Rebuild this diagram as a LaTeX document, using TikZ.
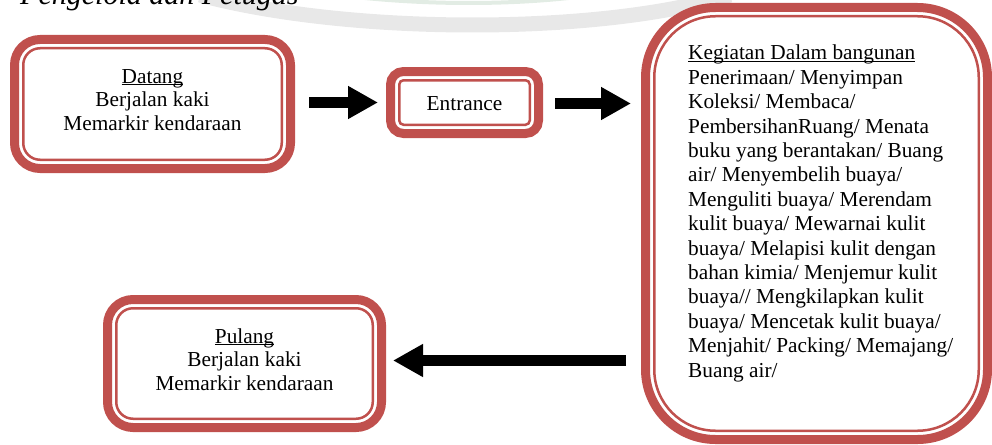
\documentclass[tikz,border=0pt]{standalone}
\usepackage{fontspec}
\setmainfont{Liberation Serif}
\usetikzlibrary{arrows.meta,calc}
\definecolor{boxred}{HTML}{C0504D}
\definecolor{markgray}{HTML}{E8E8E8}
\definecolor{markgreen}{HTML}{E2ECE4}
% underline sitting just below the baseline
\newcommand\undr[1]{\setbox0\hbox{#1}\rlap{\rule[-2.2pt]{\wd0}{1.3pt}}#1}

\begin{document}
\begin{tikzpicture}[x=1pt,y=-1pt,
  framebox/.style={draw=boxred, fill=white, line width=9pt, rounded corners=#1,
    inner sep=0pt, outer sep=0pt},
  innerline/.style={draw=boxred, line width=2.5pt, rounded corners=#1},
  bodytext/.style={font=\fontsize{21.3}{23.5}\selectfont, inner sep=0pt, align=center},
  listtext/.style={font=\fontsize{21.3}{24.4}\selectfont, inner sep=0pt, align=left},
  blockarrow/.style={line width=11pt, -{Triangle[length=30pt,width=31pt]}},
]
\useasboundingbox (0,0) rectangle (992,444);

% faint emblem arcs behind the heading
\draw[markgray, line width=15pt] (200,-5) .. controls (350,35) and (600,35) .. (730,-5);
\draw[markgreen, line width=4pt] (330,-6) .. controls (420,6) and (520,6) .. (600,-6);

\node[font=\fontsize{30}{36}\selectfont\itshape, anchor=base west, inner sep=0pt]
  (heading) at (20,5) {Pengelola dan Petugas};

% boxes: thick outer frame plus thin inner line
\node[framebox=25.5pt, minimum width=276pt, minimum height=129pt] (datang) at (152.5,104) {};
\draw[innerline=16.75pt] ([shift={(8.75pt,-8.75pt)}]datang.north west) rectangle ([shift={(-8.75pt,8.75pt)}]datang.south east);

\node[framebox=13pt, minimum width=148pt, minimum height=62pt] (entrance) at (464.5,102.5) {};
\draw[innerline=4.25pt] ([shift={(8.75pt,-8.75pt)}]entrance.north west) rectangle ([shift={(-8.75pt,8.75pt)}]entrance.south east);

\node[framebox=70pt, minimum width=342pt, minimum height=432pt] (kegiatan) at (816.5,223.5) {};
\draw[innerline=61.25pt] ([shift={(8.75pt,-8.75pt)}]kegiatan.north west) rectangle ([shift={(-8.75pt,8.75pt)}]kegiatan.south east);

\node[framebox=25.5pt, minimum width=274pt, minimum height=128pt] (pulang) at (244.5,363.5) {};
\draw[innerline=16.75pt] ([shift={(8.75pt,-8.75pt)}]pulang.north west) rectangle ([shift={(-8.75pt,8.75pt)}]pulang.south east);

% texts (base anchor = baseline of the last line)
\node[bodytext, anchor=base] (datangtxt) at (152.5,130)
  {\undr{Datang}\\Berjalan kaki\\Memarkir kendaraan};
\node[bodytext, anchor=base] (entrancetxt) at (464.5,110) {Entrance};
\node[bodytext, anchor=base] (pulangtxt) at (244.5,390)
  {\undr{Pulang}\\Berjalan kaki\\Memarkir kendaraan};
\node[listtext, anchor=base west] (kegiatantxt) at (688,377)
  {\undr{Kegiatan Dalam bangunan}\\
   Penerimaan/ Menyimpan\\
   Koleksi/ Membaca/\\
   PembersihanRuang/ Menata\\
   buku yang berantakan/ Buang\\
   air/ Menyembelih buaya/\\
   Menguliti buaya/ Merendam\\
   kulit buaya/ Mewarnai kulit\\
   buaya/ Melapisi kulit dengan\\
   bahan kimia/ Menjemur kulit\\
   buaya// Mengkilapkan kulit\\
   buaya/ Mencetak kulit buaya/\\
   Menjahit/ Packing/ Memajang/\\
   Buang air/};

% block arrows
\draw[blockarrow] ([xshift=18.5pt,yshift=1.5pt]datang.east) -- ([xshift=-12.5pt]entrance.west);
\draw[blockarrow] ([xshift=16.5pt,yshift=-1pt]entrance.east) -- ([xshift=-14.5pt,yshift=-1pt]entrance.east -| kegiatan.west);
\draw[blockarrow] ([xshift=-19.5pt,yshift=3pt]pulang.east -| kegiatan.west) -- ([xshift=11.5pt,yshift=3pt]pulang.east);
\end{tikzpicture}
\end{document}
